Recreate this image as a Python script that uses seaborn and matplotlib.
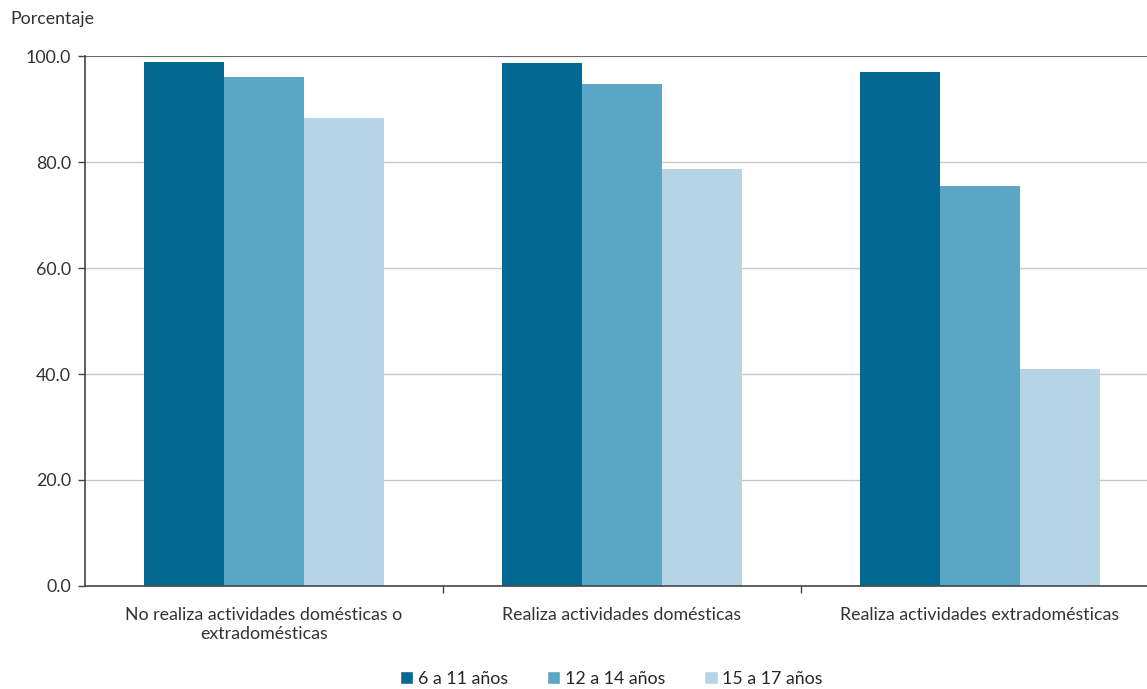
import pandas as pd
import numpy as np
import matplotlib.pyplot as plt
import seaborn as sns
from matplotlib.patches import Patch

# data
categorias = ['No realiza actividades domésticas o\nextradomésticas',
              'Realiza actividades domésticas',
              'Realiza actividades extradomésticas']
grupos = ['6 a 11 años', '12 a 14 años', '15 a 17 años']
edad_6_11 = [98.9, 98.7, 97.0]
edad_12_14 = [96.0, 94.7, 75.5]
edad_15_17 = [88.3, 78.7, 40.9]
colores = ['#036892', '#5ba5c5', '#b5d4e5']

df = pd.DataFrame({
    'categoria': categorias * 3,
    'grupo': [g for g in grupos for _ in categorias],
    'valor': edad_6_11 + edad_12_14 + edad_15_17,
})

sns.set_theme(style='white')
plt.rcParams['font.family'] = ['Lato', 'DejaVu Sans']
fs = 12.8
txt = '#333333'

fig = plt.figure(figsize=(11.47, 6.89), dpi=100)
# axes runs a little past the right edge, like the reference
ax = fig.add_axes([0.0741, 0.1495, 0.9364, 0.7692])

sns.barplot(data=df, x='categoria', y='valor', hue='grupo', order=categorias,
            hue_order=grupos, palette=colores, width=0.67, saturation=1,
            linewidth=0, ax=ax, legend=False)

ax.set_ylim(0, 100)
ax.set_xlim(-0.5, 2.5)
ax.set_yticks(np.arange(0, 101, 20))
ax.set_yticklabels([f'{v:.1f}' for v in np.arange(0, 101, 20)],
                   fontsize=fs, color=txt)
ax.yaxis.grid(True, color='#c8c8c8', linewidth=1)
ax.set_axisbelow(True)
ax.axhline(100, color='#555555', linewidth=1.2)

ax.set_xticks(range(3))
ax.set_xticklabels(categorias, fontsize=fs, color=txt, linespacing=1.25)
ax.set_xticks([0.5, 1.5], minor=True)
ax.tick_params(axis='x', which='major', length=0, pad=15)
ax.tick_params(axis='x', which='minor', length=5, width=1, color='#444444',
               direction='out', bottom=True)
ax.tick_params(axis='y', length=5, width=1, color='#444444', left=True, pad=5)
ax.set_xlabel('')
ax.set_ylabel('')

for side in ['top', 'right']:
    ax.spines[side].set_visible(False)
for side in ['left', 'bottom']:
    ax.spines[side].set_color('#444444')
    ax.spines[side].set_linewidth(1.2)

fig.text(0.009, 0.973, 'Porcentaje', fontsize=fs, color=txt,
         ha='left', va='center')

handles = [Patch(facecolor=c, label=g) for c, g in zip(colores, grupos)]
fig.legend(handles=handles, loc='lower center', bbox_to_anchor=(0.533, -0.02),
           ncol=3, frameon=False, fontsize=fs, handlelength=0.75,
           handleheight=0.75, handletextpad=0.25, columnspacing=2.2)

fig.savefig('out.png', dpi=100)
